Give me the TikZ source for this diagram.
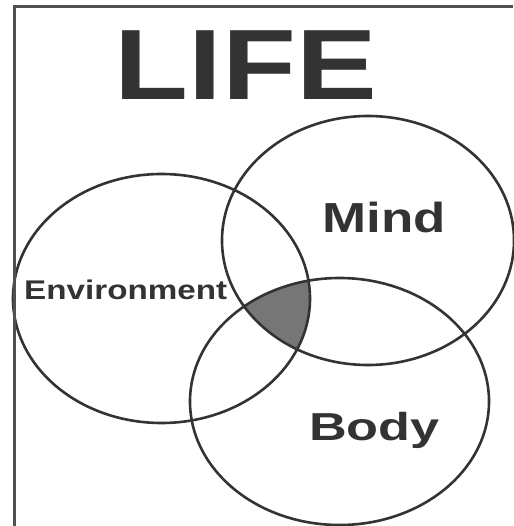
\documentclass[tikz,border=0pt]{standalone}
\usepackage{fontspec}
\setsansfont{Liberation Sans}
\usepackage{tikz}
\definecolor{lifeink}{RGB}{51,51,51}
\definecolor{lifeframe}{RGB}{80,80,80}
\definecolor{lifeshade}{RGB}{118,118,118}

\begin{document}
\begin{tikzpicture}[x=1pt,y=-1pt,
    ring/.style={lifeink,line width=2.6pt},
    word/.style={lifeink,inner sep=0pt,anchor=base,font=\sffamily\bfseries}]
  \useasboundingbox (0,0) rectangle (513,526);
  \coordinate (env) at (161.5,298.5);
  \coordinate (mind) at (368,240.5);
  \coordinate (body) at (339.5,401.5);
  % shaded common part
  \begin{scope}
    \clip (env) ellipse [x radius=148.5,y radius=124.5];
    \clip (mind) ellipse [x radius=146,y radius=124.5];
    \fill[lifeshade] (body) ellipse [x radius=149.5,y radius=123.5];
  \end{scope}
  \draw[ring] (env) ellipse [x radius=148.5,y radius=124.5];
  \draw[ring] (mind) ellipse [x radius=146,y radius=124.5];
  \draw[ring] (body) ellipse [x radius=149.5,y radius=123.5];
  \draw[lifeframe,line width=3pt] (14,526)--(14,7)--(513,7);
  \node[word,xscale=1.21,font=\sffamily\bfseries\fontsize{100}{100}\selectfont] (life) at (246,100) {LIFE};
  \node[word,xscale=1.26,font=\sffamily\bfseries\fontsize{42}{42}\selectfont] (mindlabel) at (384,232.7) {Mind};
  \node[word,xscale=1.34,font=\sffamily\bfseries\fontsize{39}{39}\selectfont] (bodylabel) at (374.5,440.7) {Body};
  \node[word,xscale=1.23,font=\sffamily\bfseries\fontsize{27}{27}\selectfont] (envlabel) at (125.7,299.3) {Environment};
\end{tikzpicture}
\end{document}
